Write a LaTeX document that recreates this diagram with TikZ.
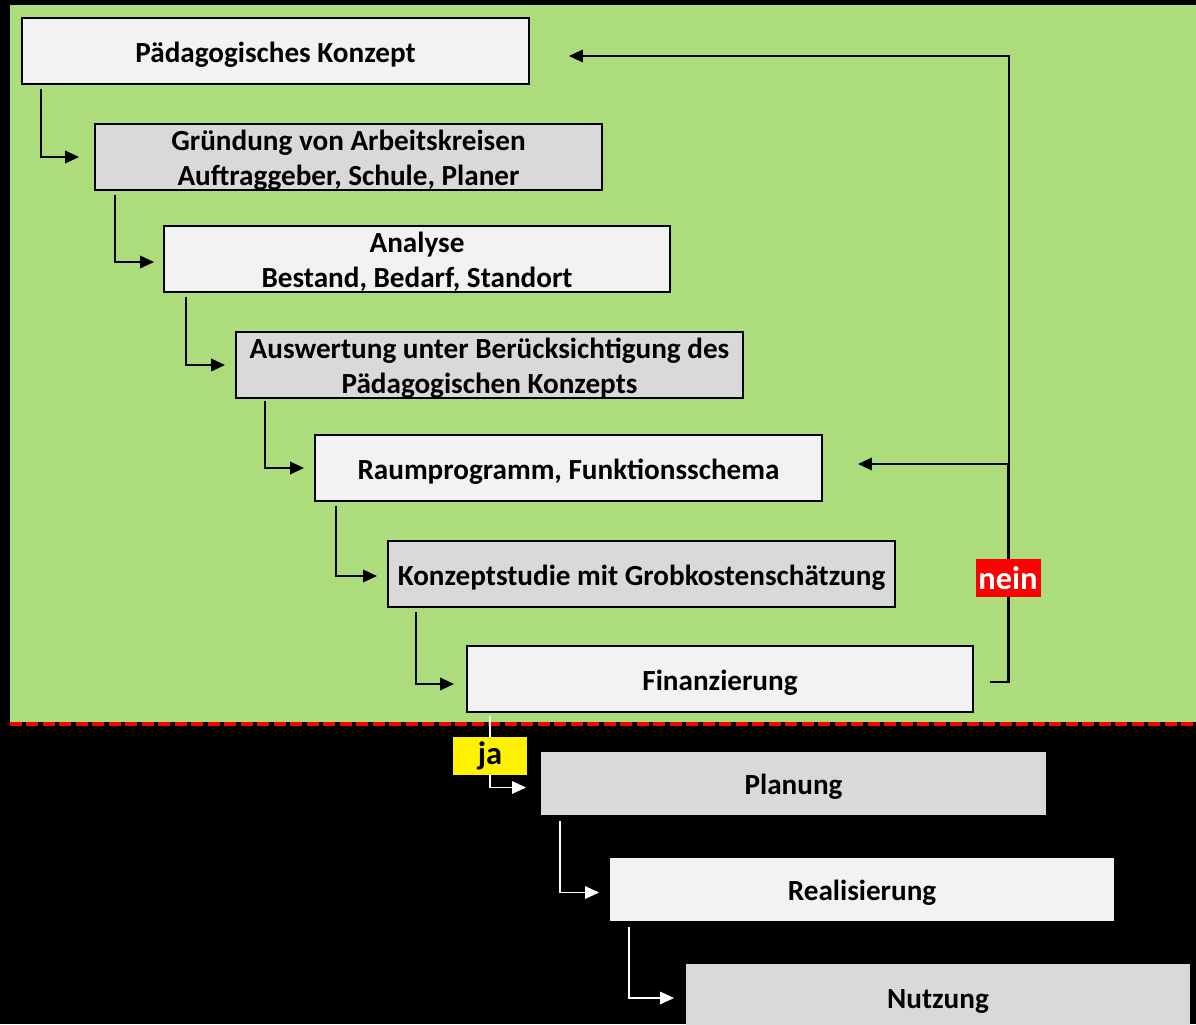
\documentclass[tikz,border=0pt]{standalone}
\usepackage{fontspec}
\setmainfont{Carlito}
\usetikzlibrary{calc,arrows.meta}
\definecolor{bggreen}{RGB}{173,220,124}
\definecolor{lightbox}{RGB}{242,242,242}
\definecolor{darkbox}{RGB}{217,217,217}
\newcommand\lowtxt[1]{\raisebox{-0.08cm}[\dimexpr\height-0.1cm\relax][\dimexpr\depth-0.1cm\relax]{\begin{tabular}{@{}c@{}}#1\end{tabular}}}
\begin{document}
\begin{tikzpicture}[x=0.02cm,y=-0.02cm,
  box/.style={draw=black,line width=0.04cm,inner sep=0pt,minimum width=10.14cm,minimum height=1.32cm,
    align=center,font=\fontsize{16.6}{20}\selectfont\bfseries},
  lbox/.style={box,fill=lightbox},
  dbox/.style={box,fill=darkbox},
  conn/.style={line width=0.04cm,-{Triangle[length=0.28cm,width=0.25cm]}},
  wconn/.style={conn,draw=white,line width=0.03cm},
  plain/.style={line width=0.04cm},
  tag/.style={font=\fontsize{18.5}{20}\selectfont\bfseries,minimum height=0.76cm,inner sep=0pt}]
\clip (0,0) rectangle (1196,1024);
\fill[black] (0,0) rectangle (1196,1024);
\fill[bggreen] (10,5) rectangle (1196,722);
\draw[red,line width=0.08cm,dash pattern=on 0.24cm off 0.09cm] (10,724) -- (1196,724);

\node[lbox] (b1) at (275.5,51) {\lowtxt{Pädagogisches Konzept}};
\node[dbox] (b2) at (348.5,157) {\lowtxt{Gründung von Arbeitskreisen\\Auftraggeber, Schule, Planer}};
\node[lbox,minimum width=10.12cm] (b3) at (417,259) {\lowtxt{Analyse\\Bestand, Bedarf, Standort}};
\node[dbox] (b4) at (489.5,365) {\lowtxt{Auswertung unter Berücksichtigung des\\Pädagogischen Konzepts}};
\node[lbox] (b5) at (568.5,468) {\lowtxt{Raumprogramm, Funktionsschema}};
\node[dbox] (b6) at (641.5,574) {\lowtxt{Konzeptstudie mit Grobkostenschätzung}};
\node[lbox,minimum width=10.12cm] (b7) at (720,679) {\lowtxt{Finanzierung}};
\node[dbox,draw=none,minimum width=10.1cm,minimum height=1.26cm] (b8) at (793.5,783.5) {\lowtxt{Planung}};
\node[lbox,draw=none,minimum width=10.08cm,minimum height=1.26cm] (b9) at (862,889.5) {\lowtxt{Realisierung}};
\node[dbox,draw=none,minimum width=10.08cm,minimum height=1.32cm] (b10) at (938,997) {\lowtxt{Nutzung}};
\fill[darkbox] (b10.south west) rectangle ($(b10.south east)+(0,40)$);

\draw[conn] ($(b1.south west)+(20,4)$) |- ($(b2.west)+(-15,0)$);
\draw[conn] ($(b2.south west)+(21,4)$) |- ($(b3.west)+(-9,3)$);
\draw[conn] ($(b3.south west)+(23,4)$) |- ($(b4.west)+(-10,0)$);
\draw[conn] ($(b4.south west)+(30,2)$) |- ($(b5.west)+(-10,0)$);
\draw[conn] ($(b5.south west)+(22,4)$) |- ($(b6.west)+(-10,2)$);
\draw[conn] ($(b6.south west)+(29,4)$) |- ($(b7.west)+(-12,5)$);
\draw[wconn] ($(b7.south west)+(24,3)$) |- ($(b8.west)+(-14,4)$);
\draw[wconn] ($(b8.south west)+(20,5)$) |- ($(b9.west)+(-10,3)$);
\draw[wconn] ($(b9.south west)+(20,5)$) |- ($(b10.west)+(-11,1)$);

\coordinate (fb) at (1008,464);
\draw[plain] ($(b7.east)+(16,3)$) -| (fb);
\draw[conn] ($(b7.east)+(16,3)$) -| ($(b1.east)+(479,5)$) -- ($(b1.east)+(39,5)$);
\draw[conn] (fb) -- ($(b5.east)+(35,-4)$);

\node[tag,fill=red,text=white,minimum width=1.3cm] (nein) at (1008,578) {nein};
\node[tag,fill=yellow,text=black,minimum width=1.48cm] (ja) at (490,756) {\raisebox{-0.04cm}{ja}};
\end{tikzpicture}
\end{document}
